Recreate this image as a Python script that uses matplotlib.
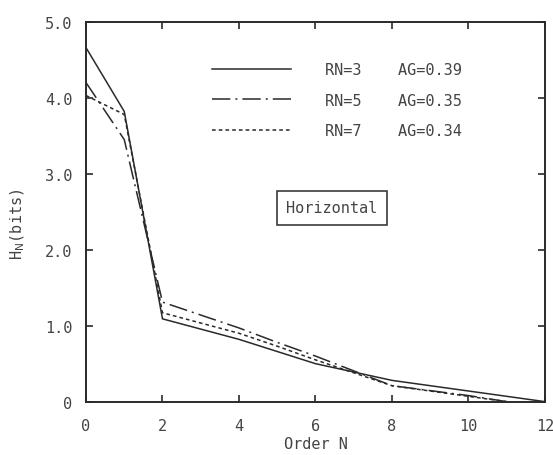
import matplotlib
matplotlib.use("Agg")
import matplotlib.pyplot as plt

# data
x_rn3 = [0, 1, 2, 4, 5, 6, 8, 10, 12]
h_rn3 = [4.66, 3.82, 1.09, 0.82, 0.66, 0.50, 0.28, 0.14, 0.0]
x_rn5 = [0, 1, 2, 4, 5, 6, 8, 10, 11]
h_rn5 = [4.20, 3.45, 1.31, 0.97, 0.78, 0.60, 0.21, 0.08, 0.0]
x_rn7 = [0, 1, 2, 4, 5, 6, 8, 10, 11]
h_rn7 = [4.03, 3.78, 1.17, 0.90, 0.73, 0.55, 0.21, 0.07, 0.0]
labels = ["RN=3    AG=0.39", "RN=5    AG=0.35", "RN=7    AG=0.34"]
xticks = [0, 2, 4, 6, 8, 10, 12]
yticks = [0, 1, 2, 3, 4, 5]
yticklabels = ["0", "1.0", "2.0", "3.0", "4.0", "5.0"]

ink = "#2a2a2a"
txt = "#444444"
font = "DejaVu Sans Mono"
fs = 11

fig = plt.figure(figsize=(5.53, 4.56), dpi=100)
ax = fig.add_axes([0.1555, 0.117, 0.83, 0.833])

lw = 1.1
ax.plot(x_rn3, h_rn3, color=ink, lw=lw, ls="-", label=labels[0])
ax.plot(x_rn5, h_rn5, color=ink, lw=lw, ls=(0, (12, 3.3, 1.3, 3.3)), label=labels[1])
ax.plot(x_rn7, h_rn7, color=ink, lw=lw, ls=(0, (2.4, 2.0)), label=labels[2])

ax.set_xlim(0, 12)
ax.set_ylim(0, 5)
ax.set_xticks(xticks)
ax.set_xticklabels([str(v) for v in xticks], fontfamily=font, fontsize=fs, color=txt)
ax.set_yticks(yticks)
ax.set_yticklabels(yticklabels, fontfamily=font, fontsize=fs, color=txt)
ax.tick_params(direction="in", top=True, right=True, length=5, width=1.2,
               color=ink)
ax.tick_params(axis="x", pad=12)
ax.tick_params(axis="y", pad=10)
for s in ax.spines.values():
    s.set_linewidth(1.4)
    s.set_color(ink)

ax.set_xlabel("Order N", fontfamily=font, fontsize=fs, color=txt, labelpad=2)
ax.set_ylabel(r"H$_{\mathrm{N}}$(bits)", fontfamily=font, fontsize=fs, color=txt)
ax.yaxis.set_label_coords(-0.128, 0.47)

leg = ax.legend(loc="upper left", bbox_to_anchor=(0.2745, 0.893), frameon=False,
                borderpad=0, borderaxespad=0,
                handlelength=5.2, handletextpad=2.2, labelspacing=1.0,
                prop={"family": font, "size": fs})
for t in leg.get_texts():
    t.set_color(txt)

ax.text(0.536, 0.510, "Horizontal", transform=ax.transAxes, ha="center", va="center",
        fontfamily=font, fontsize=fs, color=txt,
        bbox=dict(boxstyle="square,pad=0.6", fc="white", ec=ink, lw=1.1))

fig.savefig("out.png", dpi=100)
